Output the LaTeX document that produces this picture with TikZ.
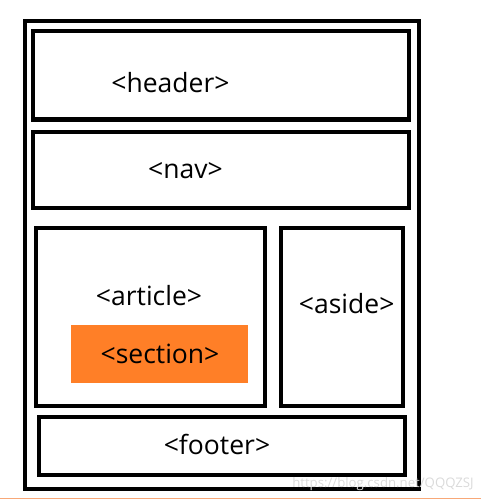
\documentclass[tikz,border=0pt]{standalone}
\usepackage{fontspec}
\setmainfont{Open Sans}
\definecolor{secorange}{HTML}{FF7F27}
\definecolor{edgeorange}{HTML}{F8A878}
\definecolor{wmgray}{HTML}{DADADA}
\begin{document}
\begin{tikzpicture}[x=1pt,y=-1pt,
  box/.style={draw=black,line width=4pt,rectangle,inner sep=0pt,outer sep=0pt},
  lbl/.style={font=\fontsize{26.5}{30}\selectfont,inner sep=0pt,anchor=base},
  secbox/.style={fill=secorange,draw=none,rectangle,inner sep=0pt,outer sep=0pt}]
\useasboundingbox (0,0) rectangle (481,500);
% outer frame
\node[box,minimum width=393.5pt,minimum height=467.7pt] (outer) at (221.75,254.85) {};
% boxes
\node[box,minimum width=376.5pt,minimum height=88.5pt] (header) at (220.75,75.25) {};
\node[box,minimum width=376.5pt,minimum height=76pt] (nav) at (220.75,169.5) {};
\node[box,minimum width=229pt,minimum height=178pt] (article) at (150.5,316.5) {};
\node[box,minimum width=122pt,minimum height=178pt] (aside) at (342,316.5) {};
\node[box,minimum width=366pt,minimum height=58.5pt] (footer) at (222,445.75) {};
\node[secbox,minimum width=177pt,minimum height=58.6pt] (section) at (159.5,354) {};
% labels
\node[lbl] (headerlbl) at (170.5,92.7) {<header>};
\node[lbl] (navlbl) at (185.5,178) {<nav>};
\node[lbl] (articlelbl) at (149,305) {<article>};
\node[lbl] (sectionlbl) at (160,363.3) {<section>};
\node[lbl] (asidelbl) at (346.7,313.3) {<aside>};
\node[lbl] (footerlbl) at (217,454) {<footer>};
% bottom edge line
\draw[edgeorange,line width=1.2pt] (0,498.6) -- (481,498.6);
% watermark
\node[font=\fontsize{13.2}{15}\selectfont,text=wmgray,inner sep=0pt] (wm) at (383,484) {https://blog.csdn.net/QQQZSJ};
\end{tikzpicture}
\end{document}
